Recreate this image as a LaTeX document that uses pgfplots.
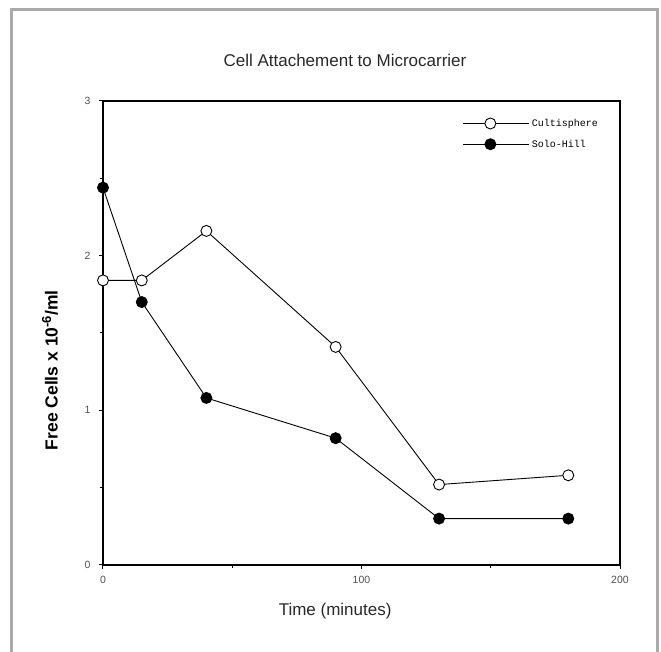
\documentclass[border=0pt]{standalone}
\usepackage{fontspec}
\setmainfont{Liberation Sans}
\newfontfamily\legfont{Liberation Mono}
\usepackage{pgfplots}
\pgfplotsset{compat=1.18}
\definecolor{framegray}{RGB}{170,170,170}
\definecolor{ticktext}{RGB}{80,80,80}
\definecolor{titletext}{RGB}{40,40,40}
\begin{document}
\begin{tikzpicture}
\useasboundingbox (0,0) rectangle (661pt,652pt);
\draw[line width=3pt, framegray] (11pt,-5pt) -- (11pt,642.5pt) -- (657pt,642.5pt) -- (657pt,-5pt);
\begin{axis}[
  at={(103pt,87pt)}, anchor=south west,
  scale only axis, width=517pt, height=464pt,
  xmin=0, xmax=200, ymin=0, ymax=3,
  xtick={0,100,200}, ytick={0,1,2,3},
  minor xtick={50,150}, minor ytick={0.5,1.5,2.5},
  tick pos=left, tick align=outside,
  major tick length=4pt, minor tick length=3pt,
  every tick/.style={black, line width=1pt},
  axis line style={line width=1.8pt},
  /pgf/number format/assume math mode=true,
  ticklabel style={font=\fontsize{10.5}{12}\selectfont, text=ticktext},
  xticklabel style={yshift=-4pt},
  yticklabel style={xshift=-5pt},
  title={Cell Attachement to Microcarrier},
  title style={font=\fontsize{17}{20}\selectfont, text=titletext,
    at={(rel axis cs:0.468,1)}, anchor=base, yshift=28pt},
  xlabel={Time (minutes)},
  xlabel style={font=\fontsize{17}{20}\selectfont, text=titletext,
    at={(rel axis cs:0.449,0)}, anchor=base, yshift=-51pt},
  ylabel={Free Cells x 10\textsuperscript{\fontsize{13}{14}\selectfont -6}/ml},
  ylabel style={font=\bfseries\fontsize{17.5}{20}\selectfont,
    at={(rel axis cs:-0.1025,0.42)}, anchor=center},
  legend style={draw=none, fill=none, at={(rel axis cs:0.69,0.97)}, anchor=north west,
    font=\legfont\fontsize{10}{12}\selectfont, row sep=8pt},
  legend cell align=left,
  legend image code/.code={\path (0pt,0pt) -- (66pt,0pt); \draw[#1] (0pt,0pt) -- (27pt,0pt) -- (54pt,0pt); \draw[#1, only marks] plot coordinates {(27pt,0pt)};},
]
\addplot[black, line width=0.9pt, mark=*, mark size=5.5pt, mark options={fill=white, line width=0.9pt}]
 coordinates {(0,1.84) (15,1.84) (40,2.16) (90,1.41) (130,0.52) (180,0.58)};
\addlegendentry{Cultisphere}
\addplot[black, line width=0.9pt, mark=*, mark size=5.5pt, mark options={fill=black, line width=0.9pt}]
 coordinates {(0,2.44) (15,1.70) (40,1.08) (90,0.82) (130,0.30) (180,0.30)};
\addlegendentry{Solo-Hill}
\end{axis}
\end{tikzpicture}
\end{document}
